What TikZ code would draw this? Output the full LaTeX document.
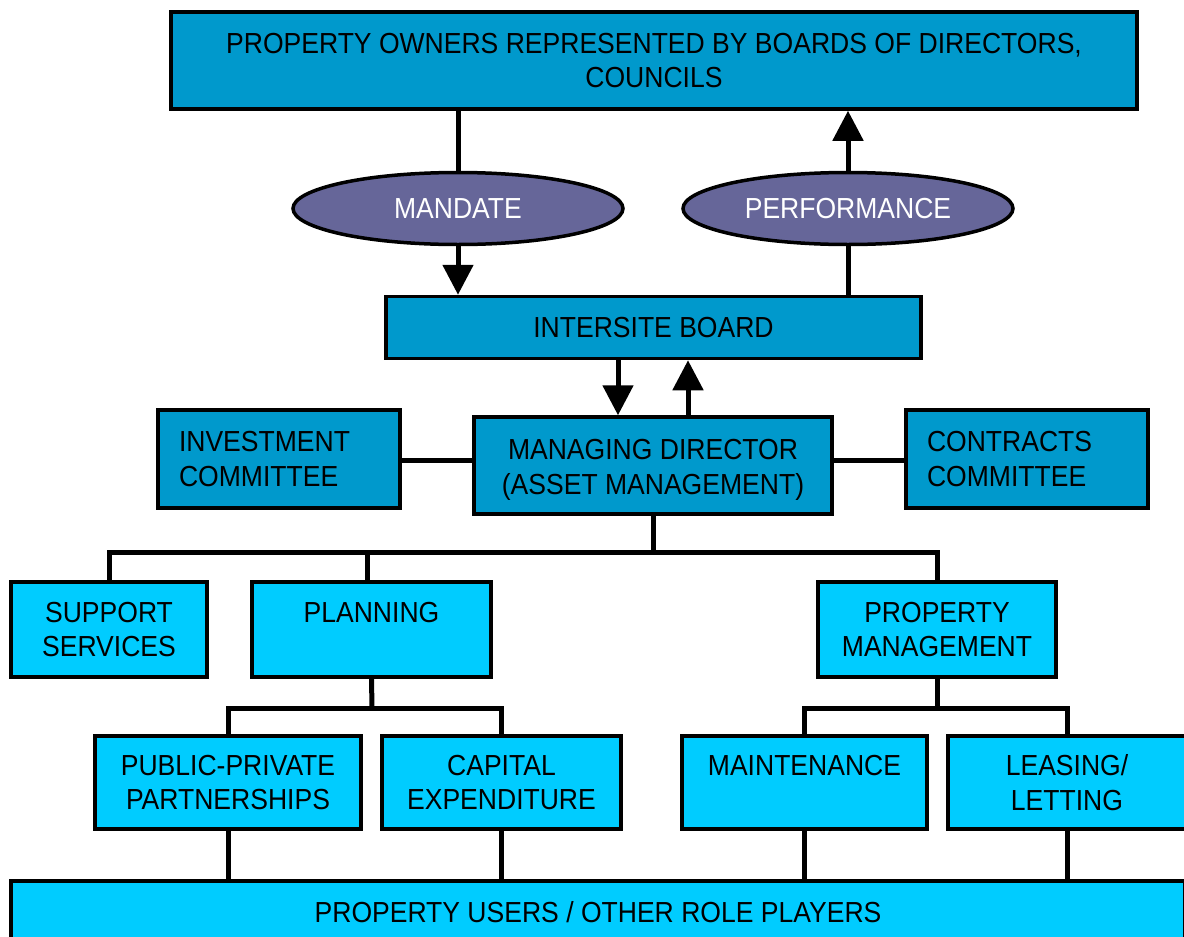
\documentclass[tikz,border=0pt]{standalone}
\usepackage{fontspec}
\setmainfont{Liberation Sans}[FakeStretch=0.915]
\usetikzlibrary{shapes.geometric,arrows.meta}
\definecolor{deepblue}{RGB}{0,153,204}
\definecolor{skyblue}{RGB}{0,204,255}
\definecolor{slateoval}{RGB}{102,102,153}
% set a line a little lower without changing its box
\newcommand\lowline[1]{\raisebox{-4.5pt}[\height][\depth]{#1}}
\tikzset{
  box/.style={draw, line width=3.5pt, inner sep=0pt, align=center,
    font=\fontsize{29}{34.5}\selectfont},
  upper/.style={box, fill=deepblue},
  lower/.style={box, fill=skyblue},
  sidebox/.style={upper, align=left, inner xsep=21pt},
  oval/.style={ellipse, draw, line width=3.5pt, fill=slateoval, text=white,
    inner sep=0pt, font=\fontsize{29}{34.5}\selectfont},
  link/.style={line width=5pt},
  arr/.style={link, -{Triangle[width=30pt,length=30pt]}},
}
\begin{document}
\begin{tikzpicture}[x=1pt,y=-1pt]
\useasboundingbox (0,0) rectangle (1184,937);
\clip (0,0) rectangle (1184,937);
\fill[white] (0,0) rectangle (1184,937);

% governance level
\node[upper, minimum width=966, minimum height=97] (owners) at (654,60.5)
  {PROPERTY OWNERS REPRESENTED BY BOARDS OF DIRECTORS,\\COUNCILS};
\node[oval, minimum width=330, minimum height=72] (mandate) at (458,208.5) {MANDATE};
\node[oval, minimum width=330, minimum height=72] (perf) at (848,208.5) {PERFORMANCE};
\node[upper, minimum width=535, minimum height=62] (board) at (653.5,327.5) {INTERSITE BOARD};

% executive level
\node[upper, minimum width=358, minimum height=97] (md) at (653,465.5)
  {\lowline{MANAGING DIRECTOR}\\\lowline{(ASSET MANAGEMENT)}};
\node[sidebox, minimum width=242, minimum height=98, text width=200] (invest) at (279,459)
  {INVESTMENT\\COMMITTEE};
\node[sidebox, minimum width=242, minimum height=98, text width=200] (contracts) at (1027,459)
  {CONTRACTS\\COMMITTEE};

% departments
\node[lower, minimum width=196, minimum height=95] (support) at (109,629.5) {SUPPORT\\SERVICES};
\node[lower, minimum width=239, minimum height=95] (planning) at (371.5,629.5) {PLANNING\\~};
\node[lower, minimum width=238, minimum height=95] (propman) at (937,629.5) {PROPERTY\\MANAGEMENT};

% functions
\node[lower, minimum width=266, minimum height=93] (ppp) at (228,782.5) {PUBLIC-PRIVATE\\PARTNERSHIPS};
\node[lower, minimum width=239, minimum height=93] (capex) at (501.5,782.5) {CAPITAL\\EXPENDITURE};
\node[lower, minimum width=245, minimum height=93] (maint) at (804.5,782.5) {MAINTENANCE\\~};
\node[lower, minimum width=238, minimum height=93] (leasing) at (1067,782.5) {LEASING/\\LETTING};

\node[lower, minimum width=1174, minimum height=62] (users) at (598,912)
  {PROPERTY USERS / OTHER ROLE PLAYERS};

% bus junctions
\coordinate (mdbus) at (653,552);
\coordinate (planbus) at (372,708);
\coordinate (pmbus) at (937,708);

% mandate and performance flow
\draw[link] (mandate.north |- owners.south) -- (mandate.north);
\draw[arr] (mandate.south) -- (mandate.south |- board.north);
\draw[link] (perf.south |- board.north) -- (perf.south);
\draw[arr] (perf.north) -- (perf.north |- owners.south);

% board and managing director
\draw[arr] ([xshift=-35.5]board.south) -- ([xshift=-35.5]board.south |- md.north);
\draw[arr] ([xshift=34.5]board.south |- md.north) -- ([xshift=34.5]board.south);
\draw[link] (invest.east |- 0,460) -- (md.west |- 0,460);
\draw[link] (md.east |- 0,460) -- (contracts.west |- 0,460);

% departments bus
\draw[link] (md.south) -- (mdbus);
\draw[link] (support.north) |- (mdbus) -| (propman.north);
\draw[link] ([xshift=-4.5]planning.north) -- ([xshift=-4.5]planning.north |- mdbus);

% planning functions
\draw[link] (planning.south) -- (planbus);
\draw[link] (ppp.north) |- (planbus) -| (capex.north);

% property management functions
\draw[link] (propman.south) -- (pmbus);
\draw[link] (maint.north) |- (pmbus) -| (leasing.north);

% links to users
\foreach \n in {ppp,capex,maint,leasing}
  \draw[link] (\n.south) -- (\n.south |- users.north);
\end{tikzpicture}
\end{document}
